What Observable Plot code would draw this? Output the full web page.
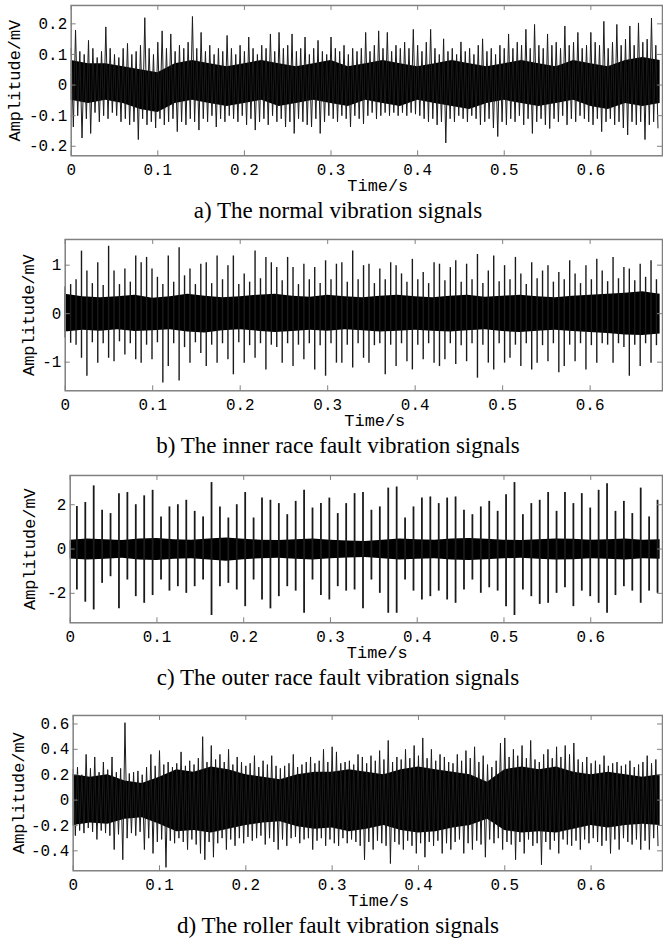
<!DOCTYPE html>
<html><head><meta charset="utf-8">
<script src="https://cdn.jsdelivr.net/npm/d3@7"></script>
<script src="https://cdn.jsdelivr.net/npm/@observablehq/plot@0.6"></script>
<style>
html,body{margin:0;padding:0;background:#fff;overflow:hidden;width:663px;height:939px}
#wrap{position:relative;width:663px;height:939px;overflow:hidden}
#wrap svg{position:absolute;left:0}
.cap{position:absolute;left:38px;width:600px;text-align:center;font-family:"Liberation Serif","Times New Roman",serif;font-size:23px;line-height:1;white-space:nowrap;color:#000}
</style></head><body><div id="wrap"></div>
<script>
// ---------- shared ----------
const xTicks = [0, 0.1, 0.2, 0.3, 0.4, 0.5, 0.6];
const xLabel = "Time/s";
const yLabel = "Amplitude/mV";
const captions = [
  "a) The normal vibration signals",
  "b) The inner race fault vibration signals",
  "c) The outer race fault vibration signals",
  "d) The roller fault vibration signals"
];

// ---------- a) normal: per-column extremes, sample step 0.005 s ----------
const aHi = [0.12,0.18,0.11,0.10,0.146,0.12,0.09,0.11,0.19,0.12,0.10,0.09,0.12,0.136,0.10,0.11,0.13,0.22,0.12,0.10,
0.14,0.177,0.12,0.167,0.11,0.13,0.12,0.14,0.224,0.12,0.172,0.11,0.13,0.10,0.12,0.11,0.162,0.12,0.10,0.13,
0.11,0.157,0.12,0.10,0.13,0.12,0.167,0.11,0.172,0.12,0.13,0.167,0.11,0.12,0.157,0.10,0.12,0.146,0.11,0.10,
0.157,0.12,0.11,0.13,0.10,0.12,0.11,0.12,0.172,0.11,0.13,0.177,0.12,0.172,0.11,0.13,0.12,0.14,0.12,0.182,
0.13,0.11,0.14,0.182,0.12,0.10,0.151,0.11,0.12,0.10,0.141,0.11,0.12,0.10,0.13,0.151,0.11,0.12,0.10,0.13,
0.12,0.167,0.12,0.14,0.13,0.182,0.12,0.198,0.13,0.12,0.167,0.13,0.14,0.12,0.193,0.13,0.14,0.172,0.12,0.13,
0.172,0.14,0.13,0.208,0.12,0.14,0.198,0.13,0.15,0.193,0.13,0.203,0.14,0.15,0.219,0.13];
const aLo = [-0.137,-0.10,-0.173,-0.11,-0.158,-0.09,-0.12,-0.10,-0.11,-0.09,-0.10,-0.12,-0.11,-0.13,-0.12,-0.178,-0.11,-0.13,-0.12,-0.14,
-0.11,-0.13,-0.12,-0.11,-0.152,-0.12,-0.13,-0.11,-0.12,-0.147,-0.11,-0.12,-0.10,-0.137,-0.11,-0.12,-0.10,-0.11,-0.12,-0.10,
-0.13,-0.11,-0.147,-0.12,-0.11,-0.13,-0.10,-0.12,-0.11,-0.137,-0.12,-0.158,-0.11,-0.12,-0.13,-0.137,-0.11,-0.158,-0.12,-0.10,
-0.11,-0.12,-0.10,-0.11,-0.137,-0.10,-0.11,-0.127,-0.10,-0.09,-0.111,-0.10,-0.09,-0.10,-0.09,-0.10,-0.09,-0.10,-0.09,-0.095,
-0.10,-0.11,-0.12,-0.11,-0.13,-0.12,-0.189,-0.11,-0.12,-0.10,-0.11,-0.12,-0.10,-0.11,-0.13,-0.12,-0.11,-0.14,-0.168,-0.12,
-0.13,-0.11,-0.12,-0.10,-0.13,-0.11,-0.158,-0.12,-0.11,-0.13,-0.142,-0.11,-0.12,-0.10,-0.13,-0.11,-0.12,-0.10,-0.11,-0.12,
-0.13,-0.11,-0.152,-0.12,-0.11,-0.13,-0.12,-0.14,-0.163,-0.12,-0.13,-0.12,-0.178,-0.13,-0.12,-0.14];
// dense core band, every 0.02 s
const aCoreHi = [0.08,0.07,0.07,0.06,0.05,0.04,0.07,0.08,0.07,0.06,0.07,0.08,0.07,0.06,0.07,0.08,0.06,0.07,0.08,0.07,0.06,0.07,0.08,0.07,0.06,0.07,0.08,0.07,0.06,0.08,0.07,0.06,0.08,0.09,0.08];
const aCoreLo = [-0.05,-0.06,-0.05,-0.06,-0.08,-0.09,-0.06,-0.05,-0.06,-0.07,-0.06,-0.05,-0.07,-0.06,-0.05,-0.06,-0.07,-0.05,-0.06,-0.07,-0.05,-0.06,-0.07,-0.08,-0.06,-0.05,-0.06,-0.07,-0.06,-0.05,-0.07,-0.08,-0.06,-0.07,-0.06];

// ---------- b) inner race: impulse extremes, impulse period 0.0062 s ----------
const bHi = [0.55,0.60,0.70,1.29,0.88,0.62,1.05,0.58,1.39,0.88,0.60,0.92,0.65,1.19,1.05,1.16,0.92,0.75,0.60,1.19,
0.65,1.36,0.78,0.92,0.60,1.02,1.05,0.62,1.19,0.70,0.99,1.19,0.60,0.82,0.65,1.29,0.72,1.16,1.05,0.95,
0.68,1.16,0.95,0.60,1.02,0.70,0.95,0.62,1.09,0.70,1.02,1.05,0.65,1.29,0.70,0.99,1.02,0.62,0.92,0.70,
1.05,0.99,0.82,0.65,1.12,0.70,0.85,0.62,1.05,1.02,0.68,0.95,1.09,0.65,1.02,0.70,1.22,0.62,0.88,1.19,
0.66,0.99,0.70,1.16,0.82,0.60,1.05,0.72,0.88,0.99,0.65,0.85,0.70,1.09,0.82,0.62,0.99,0.70,1.12,0.88,
0.66,1.16,0.72,0.95,0.92,0.68,1.02,0.75,1.09,0.70];
const bLo = [-0.50,-0.61,-0.65,-0.92,-1.29,-0.60,-1.02,-0.62,-0.92,-0.99,-0.58,-0.85,-0.62,-0.95,-1.02,-0.65,-0.95,-0.60,-1.43,-1.09,
-0.62,-1.39,-0.70,-1.02,-0.60,-0.82,-1.09,-0.65,-1.02,-0.62,-0.95,-1.26,-0.60,-1.02,-0.66,-0.92,-0.62,-1.16,-0.65,-0.70,
-1.02,-0.62,-1.09,-0.65,-0.95,-0.62,-1.16,-0.66,-1.29,-0.62,-1.02,-1.02,-0.65,-1.12,-0.62,-0.92,-1.02,-0.66,-0.62,-1.26,
-0.65,-1.09,-0.62,-0.99,-1.16,-0.65,-0.95,-0.62,-1.02,-1.09,-0.95,-0.62,-1.05,-0.66,-0.99,-0.62,-1.33,-0.65,-1.02,-1.16,
-0.62,-1.02,-0.92,-0.65,-1.09,-0.62,-1.16,-1.02,-0.66,-0.99,-0.62,-1.22,-1.09,-0.65,-0.99,-0.62,-1.16,-0.66,-1.02,-0.62,
-0.65,-1.02,-0.62,-0.70,-1.29,-0.65,-1.09,-0.62,-1.02,-0.66];
const bCoreHi = [0.40,0.35,0.33,0.35,0.38,0.32,0.35,0.40,0.36,0.33,0.35,0.38,0.40,0.36,0.34,0.38,0.35,0.33,0.36,0.38,0.35,0.33,0.36,0.38,0.34,0.36,0.38,0.35,0.33,0.36,0.38,0.40,0.42,0.45,0.40];
const bCoreLo = [-0.38,-0.34,-0.36,-0.33,-0.37,-0.35,-0.33,-0.38,-0.40,-0.35,-0.33,-0.36,-0.39,-0.37,-0.34,-0.36,-0.33,-0.35,-0.38,-0.36,-0.34,-0.36,-0.38,-0.35,-0.33,-0.37,-0.39,-0.36,-0.34,-0.37,-0.39,-0.41,-0.44,-0.45,-0.42];

// ---------- c) outer race: impulse extremes, first at 0.0077 s, period 0.0097 s ----------
const cHi = [1.92,2.10,2.85,1.75,1.60,2.50,2.55,2.00,2.40,2.65,1.45,1.90,2.00,2.20,1.70,1.45,3.00,1.90,1.40,2.00,
2.55,1.40,2.30,2.20,2.05,1.55,2.15,2.65,1.85,2.05,2.30,1.60,2.05,2.50,2.55,1.75,1.90,2.75,2.80,1.40,
1.90,2.30,2.35,2.05,2.30,2.35,1.75,1.55,1.90,2.15,1.70,2.45,3.00,1.55,2.05,2.20,2.55,1.70,2.55,2.05,
2.50,1.85,2.65,2.95,1.70,2.15,1.60,2.75,1.45,2.20];
const cLo = [-1.85,-2.40,-2.75,-1.55,-1.25,-2.70,-1.40,-2.15,-2.45,-2.10,-1.40,-1.90,-1.70,-2.00,-1.70,-1.40,-3.00,-1.70,-1.55,-1.85,
-2.60,-1.40,-2.30,-2.70,-2.15,-1.70,-1.90,-2.90,-1.40,-2.10,-2.30,-1.70,-1.90,-1.85,-2.70,-1.40,-2.00,-2.90,-2.90,-1.40,
-1.90,-2.30,-2.15,-1.90,-2.30,-2.45,-1.85,-1.40,-2.00,-1.75,-1.90,-2.60,-3.00,-1.85,-2.15,-2.50,-2.45,-2.00,-1.75,-2.60,
-1.90,-2.15,-2.45,-2.90,-2.10,-1.70,-1.90,-2.45,-1.90,-2.00];
const cCoreHi = [0.40,0.45,0.42,0.38,0.45,0.48,0.42,0.40,0.45,0.50,0.44,0.40,0.38,0.42,0.45,0.40,0.36,0.34,0.40,0.45,0.42,0.40,0.45,0.48,0.44,0.40,0.38,0.42,0.45,0.44,0.40,0.42,0.45,0.40,0.42];
const cCoreLo = [-0.45,-0.50,-0.46,-0.42,-0.50,-0.52,-0.46,-0.44,-0.50,-0.55,-0.48,-0.44,-0.42,-0.46,-0.50,-0.44,-0.40,-0.38,-0.44,-0.50,-0.46,-0.44,-0.50,-0.52,-0.48,-0.44,-0.42,-0.46,-0.50,-0.48,-0.44,-0.46,-0.50,-0.44,-0.46];

// ---------- d) roller: per-column extremes, sample step 0.005 s ----------
const dHi = [0.24,0.26,0.20,0.36,0.25,0.34,0.22,0.30,0.24,0.34,0.22,0.25,0.61,0.21,0.22,0.23,0.20,0.26,0.36,0.27,
0.39,0.28,0.30,0.26,0.29,0.38,0.27,0.31,0.28,0.33,0.50,0.30,0.43,0.32,0.36,0.30,0.40,0.28,0.34,0.30,
0.27,0.29,0.35,0.26,0.31,0.28,0.35,0.27,0.25,0.27,0.29,0.36,0.26,0.28,0.30,0.34,0.29,0.31,0.40,0.30,
0.42,0.38,0.29,0.30,0.31,0.28,0.36,0.34,0.29,0.35,0.31,0.39,0.32,0.47,0.30,0.34,0.32,0.40,0.33,0.43,
0.35,0.49,0.33,0.40,0.31,0.36,0.34,0.30,0.29,0.36,0.31,0.39,0.33,0.42,0.30,0.35,0.28,0.26,0.31,0.45,
0.49,0.34,0.40,0.35,0.43,0.33,0.47,0.32,0.30,0.36,0.40,0.33,0.42,0.34,0.43,0.36,0.45,0.32,0.30,0.34,
0.29,0.31,0.28,0.35,0.27,0.29,0.30,0.27,0.28,0.31,0.26,0.28,0.30,0.35,0.29,0.32];
const dLo = [-0.28,-0.24,-0.26,-0.22,-0.25,-0.31,-0.24,-0.26,-0.28,-0.39,-0.27,-0.47,-0.30,-0.26,-0.28,-0.25,-0.39,-0.30,-0.42,-0.33,
-0.31,-0.53,-0.32,-0.34,-0.30,-0.33,-0.39,-0.31,-0.35,-0.42,-0.47,-0.33,-0.45,-0.34,-0.30,-0.39,-0.31,-0.36,-0.30,-0.34,
-0.29,-0.32,-0.30,-0.28,-0.35,-0.30,-0.33,-0.39,-0.31,-0.36,-0.30,-0.29,-0.34,-0.31,-0.30,-0.39,-0.32,-0.30,-0.36,-0.31,
-0.34,-0.36,-0.30,-0.34,-0.31,-0.33,-0.36,-0.47,-0.33,-0.39,-0.32,-0.34,-0.36,-0.50,-0.33,-0.35,-0.39,-0.32,-0.36,-0.42,
-0.34,-0.45,-0.33,-0.36,-0.32,-0.42,-0.34,-0.39,-0.33,-0.31,-0.42,-0.34,-0.39,-0.32,-0.35,-0.45,-0.31,-0.34,-0.30,-0.39,
-0.33,-0.35,-0.47,-0.33,-0.42,-0.31,-0.36,-0.34,-0.51,-0.33,-0.39,-0.32,-0.42,-0.31,-0.35,-0.36,-0.32,-0.39,-0.31,-0.34,
-0.30,-0.33,-0.36,-0.32,-0.42,-0.31,-0.39,-0.30,-0.33,-0.35,-0.31,-0.39,-0.32,-0.39,-0.30,-0.36];
const dCoreHi = [0.20,0.18,0.20,0.15,0.13,0.18,0.24,0.22,0.26,0.24,0.20,0.18,0.16,0.20,0.22,0.22,0.24,0.22,0.20,0.24,0.26,0.24,0.22,0.20,0.14,0.24,0.26,0.24,0.26,0.22,0.20,0.22,0.20,0.18,0.20];
const dCoreLo = [-0.20,-0.18,-0.19,-0.15,-0.14,-0.19,-0.25,-0.24,-0.26,-0.23,-0.20,-0.18,-0.17,-0.21,-0.23,-0.22,-0.25,-0.23,-0.20,-0.24,-0.26,-0.25,-0.22,-0.20,-0.15,-0.24,-0.26,-0.25,-0.26,-0.23,-0.20,-0.22,-0.20,-0.19,-0.20];

const aYTicks = [-0.2, -0.1, 0, 0.1, 0.2];
const bYTicks = [-1, 0, 1];
const cYTicks = [-2, 0, 2];
const dYTicks = [-0.4, -0.2, 0, 0.2, 0.4, 0.6];

// ---------- drawing ----------
const wrap = document.getElementById("wrap");
const fmt = d => (d === 0 ? "0" : String(d));
const W = 666, RIGHT = 1, MT = 6, MB = 52;

function panel(cfg) {
  // extremes: "rule" = one vertical stroke per impulse, "wave" = trace alternating max/min
  const spikes = cfg.hi.map((h, i) => ({t: cfg.start + i * cfg.step, hi: h, lo: cfg.lo[i]}));
  const wave = cfg.hi.flatMap((h, i) => [
    {t: cfg.start + i * cfg.step, v: h},
    {t: cfg.start + (i + 0.5) * cfg.step, v: cfg.lo[i]}
  ]);
  const core = cfg.coreHi.map((h, i) => ({t: i * 0.02, hi: h, lo: cfg.coreLo[i]}));
  const plotH = cfg.bottom - cfg.top;
  const plotW = W - cfg.left - RIGHT;
  const axisColor = "#808080";
  const signalMark = cfg.mode === "wave"
    ? Plot.line(wave, {x: "t", y: "v", stroke: "#1a1a1a", strokeWidth: cfg.sw, curve: "linear"})
    : Plot.ruleX(spikes, {x: "t", y1: "lo", y2: "hi", stroke: "#1a1a1a", strokeWidth: cfg.sw});
  const svg = Plot.plot({
    width: W, height: MT + plotH + MB,
    marginLeft: cfg.left, marginRight: RIGHT, marginTop: MT, marginBottom: MB,
    x: {domain: [0, 0.6827]},
    y: {domain: cfg.yDomain},
    style: {fontFamily: "'Liberation Mono', 'DejaVu Sans Mono', monospace", fontSize: "16px", background: "transparent", color: "#000", overflow: "visible"},
    marks: [
      Plot.areaY(core, {x: "t", y1: "lo", y2: "hi", fill: "#000", curve: "linear"}),
      signalMark,
      Plot.frame({stroke: axisColor, strokeWidth: 1.5}),
      Plot.tickX(xTicks, {x: d => d, insetTop: plotH - 5, stroke: axisColor}),
      Plot.tickX(xTicks, {x: d => d, insetBottom: plotH - 5, stroke: axisColor}),
      Plot.tickY(cfg.yTicks, {y: d => d, insetRight: plotW - 5, stroke: axisColor}),
      Plot.tickY(cfg.yTicks, {y: d => d, insetLeft: plotW - 5, stroke: axisColor}),
      Plot.axisX(xTicks, {tickSize: 0, tickPadding: 8, tickFormat: fmt, label: null}),
      Plot.axisY(cfg.yTicks, {tickSize: 0, tickPadding: 4, tickFormat: fmt, label: null}),
      Plot.text([xLabel], {frameAnchor: "bottom", dy: 35, dx: 11, text: d => d, fontSize: 17}),
      Plot.text([yLabel], {frameAnchor: "left", rotate: -90, dx: cfg.yLabelDx, text: d => d, fontSize: 17, textAnchor: "middle"})
    ]
  });
  svg.style.top = (cfg.top - MT) + "px";
  wrap.appendChild(svg);
  const cap = document.createElement("div");
  cap.className = "cap";
  cap.textContent = cfg.caption;
  cap.style.top = (cfg.bottom + 62 - 19.3) + "px";
  wrap.appendChild(cap);
}

panel({hi: aHi, lo: aLo, start: 0, step: 0.005, coreHi: aCoreHi, coreLo: aCoreLo, sw: 1, mode: "wave",
  yDomain: [-0.231, 0.26], yTicks: aYTicks, left: 71, top: 5, bottom: 156, yLabelDx: -57, caption: captions[0]});
panel({hi: bHi, lo: bLo, start: 0, step: 0.0062, coreHi: bCoreHi, coreLo: bCoreLo, sw: 1.4, mode: "rule",
  yDomain: [-1.59, 1.53], yTicks: bYTicks, left: 65, top: 239, bottom: 391, yLabelDx: -37, caption: captions[1]});
panel({hi: cHi, lo: cLo, start: 0.0077, step: 0.0097, coreHi: cCoreHi, coreLo: cCoreLo, sw: 1.8, mode: "rule",
  yDomain: [-3.33, 3.32], yTicks: cYTicks, left: 70, top: 475, bottom: 623, yLabelDx: -41, caption: captions[2]});
panel({hi: dHi, lo: dLo, start: 0, step: 0.005, coreHi: dCoreHi, coreLo: dCoreLo, sw: 1, mode: "wave",
  yDomain: [-0.557, 0.667], yTicks: dYTicks, left: 73, top: 715, bottom: 871, yLabelDx: -55, caption: captions[3]});
</script></body></html>
